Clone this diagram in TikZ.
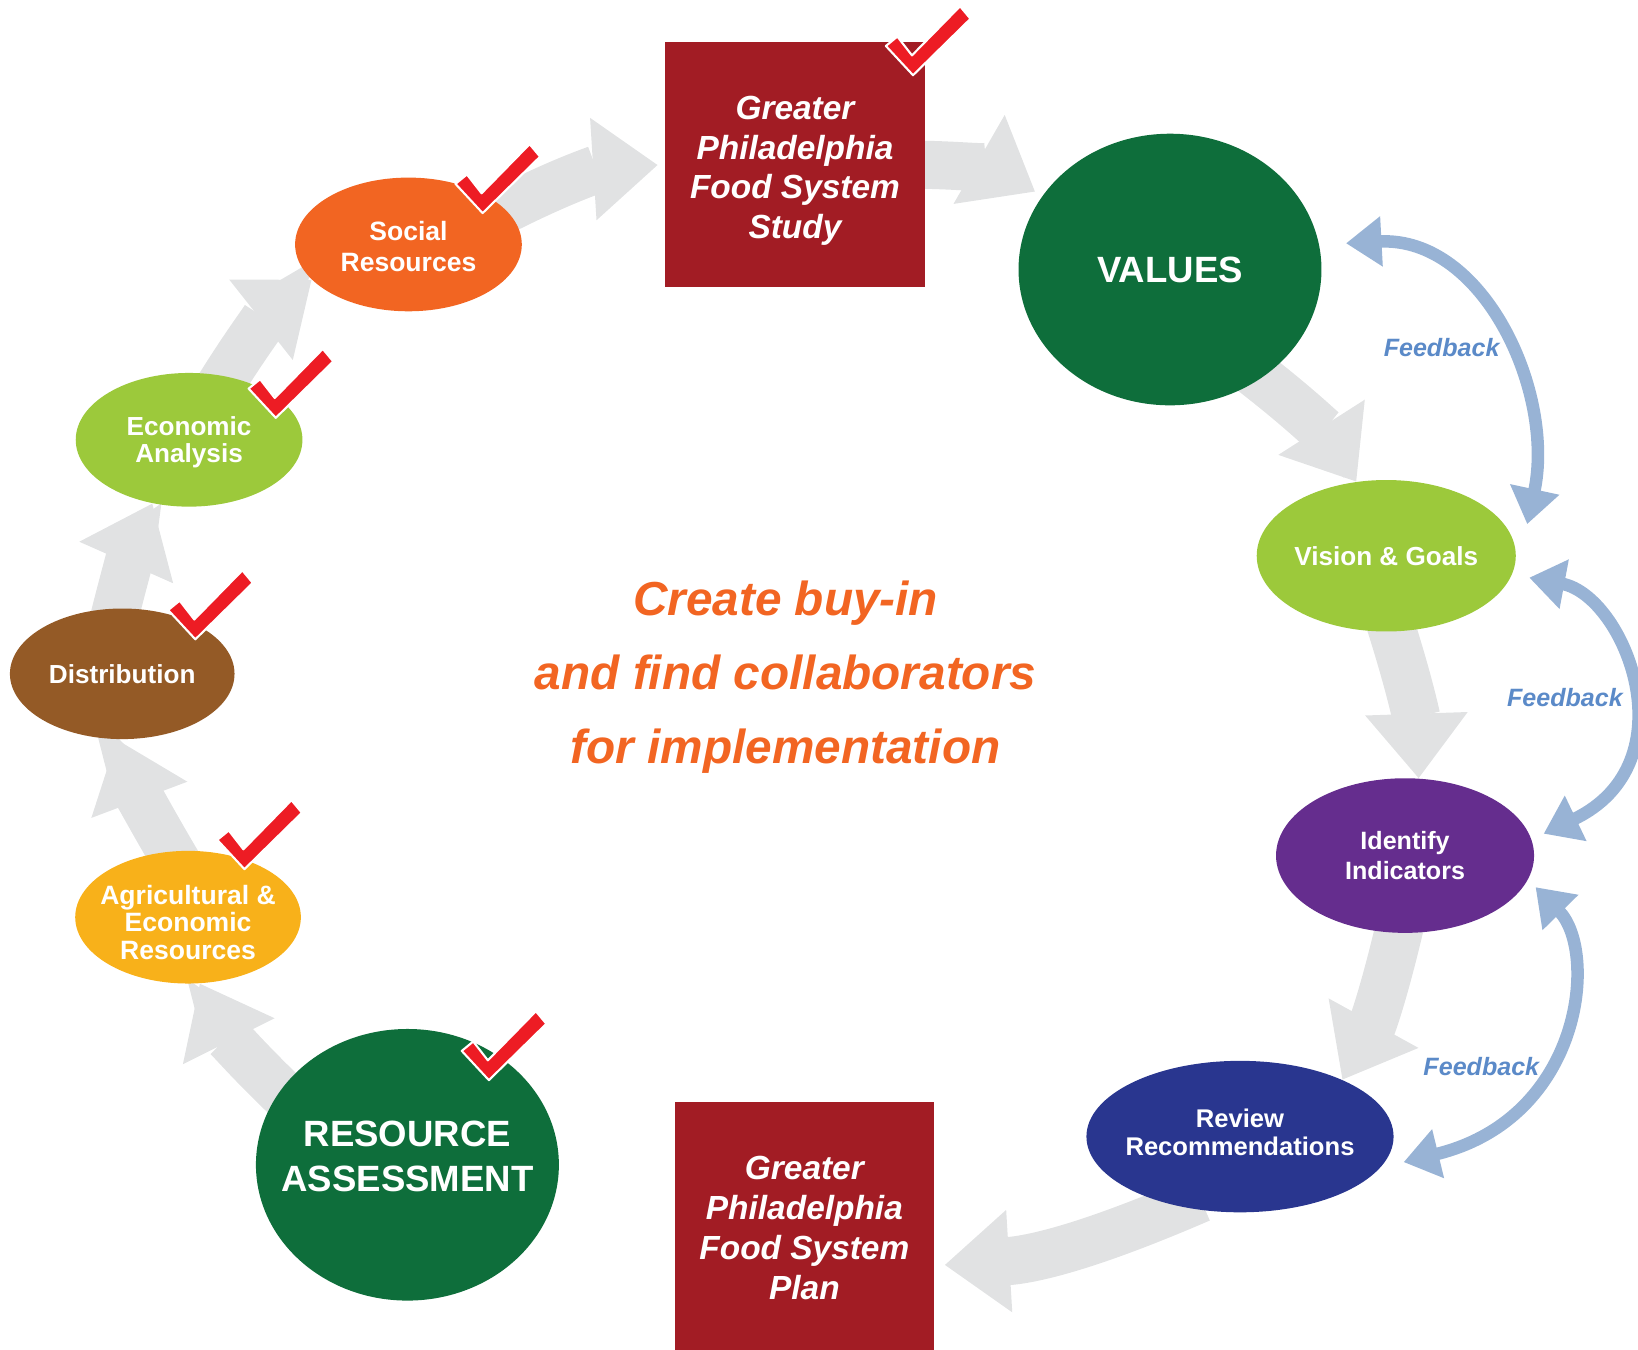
\documentclass[tikz,border=0pt]{standalone}
\usepackage{fontspec}
\setmainfont{Liberation Sans}
\usetikzlibrary{shapes.geometric,arrows.meta}
\definecolor{deepgreen}{HTML}{0E6E3B}
\definecolor{leafgreen}{HTML}{9CC93B}
\definecolor{plum}{HTML}{652D8E}
\definecolor{navy}{HTML}{29368F}
\definecolor{bark}{HTML}{945A26}
\definecolor{amber}{HTML}{F8B11A}
\definecolor{tangerine}{HTML}{F26522}
\definecolor{boxred}{HTML}{A21C24}
\definecolor{checkred}{HTML}{ED1C24}
\definecolor{flowgrey}{HTML}{E1E2E3}
\definecolor{fbblue}{HTML}{98B3D5}
\definecolor{fbtext}{HTML}{5B8AC8}
\pgfdeclarelayer{back}
\pgfsetlayers{back,main}
\begin{document}
\begin{tikzpicture}[x=1pt,y=-1pt,
  blob/.style={ellipse,inner sep=0pt,fill=#1},
  word/.style={text=white,align=center,font=\bfseries\fontsize{25}{27}\selectfont},
  bigword/.style={text=white,align=center,font=\bfseries\fontsize{35}{43}\selectfont},
  slab/.style={rectangle,fill=boxred,minimum width=248pt},
  boxword/.style={text=white,align=center,font=\bfseries\itshape\fontsize{32}{38}\selectfont},
  flow/.style={draw=flowgrey,line width=46pt,shorten <=-20pt,-{Triangle[length=62pt,width=94pt]}},
  fb/.style={draw=fbblue,line width=12pt,{Triangle[length=34pt,width=46pt]}-{Triangle[length=34pt,width=46pt]}},
  fbword/.style={text=fbtext,font=\bfseries\itshape\fontsize{24}{24}\selectfont},
  redcheck/.pic={\draw[fill=checkred,draw=white,line width=2pt,line join=round]
    (-24,-24) -- (-13,-33) -- (1,-15) -- (47,-62) -- (57,-50) -- (2,4) -- cycle;}]
\useasboundingbox (0,0) rectangle (1568,1292);
% the two study/plan boxes
\node[slab,minimum height=235pt,label={[boxword,yshift=-6pt]center:Greater\\Philadelphia\\Food System\\Study}] (study) at (761,157.5) {};
\node[slab,minimum height=237pt,label={[boxword,yshift=-2pt]center:Greater\\Philadelphia\\Food System\\Plan}] (plan) at (770,1173.5) {};
% right side
\node[blob=deepgreen,minimum width=290pt,minimum height=260pt,label={[bigword]center:VALUES}] (values) at (1120,258) {};
\node[blob=leafgreen,minimum width=248pt,minimum height=145pt,label={[word]center:Vision \& Goals}] (vision) at (1327,532) {};
\node[blob=plum,minimum width=247pt,minimum height=148pt,label={[word,font=\bfseries\fontsize{24}{28}\selectfont]center:Identify\\Indicators}] (ident) at (1345,819) {};
\node[blob=navy,minimum width=294pt,minimum height=145pt,label={[word,yshift=4pt,font=\bfseries\fontsize{24.5}{26}\selectfont]center:Review\\Recommendations}] (rev) at (1187,1088) {};
% left side
\node[blob=deepgreen,minimum width=290pt,minimum height=260pt,label={[bigword,yshift=8pt]center:RESOURCE\\ASSESSMENT}] (ra) at (390,1115) {};
\node[blob=amber,minimum width=216pt,minimum height=127pt,label={[word,yshift=-5pt,font=\bfseries\fontsize{25.4}{26.5}\selectfont]center:Agricultural \&\\Economic\\Resources}] (agri) at (180,878) {};
\node[blob=bark,minimum width=215pt,minimum height=125pt,label={[word]center:Distribution}] (dist) at (117,645) {};
\node[blob=leafgreen,minimum width=217pt,minimum height=128pt,label={[word,yshift=-2pt,font=\bfseries\fontsize{25}{26}\selectfont]center:Economic\\Analysis}] (econ) at (181,421) {};
\node[blob=tangerine,minimum width=217pt,minimum height=128pt,label={[word,yshift=-2pt,font=\bfseries\fontsize{25.4}{29}\selectfont]center:Social\\Resources}] (soc) at (391,234) {};
% centre text
\node[text=tangerine,align=center,font=\bfseries\itshape\fontsize{45.7}{71}\selectfont] (buyin) at (752,648) {Create buy-in\\and find collaborators\\for implementation};
% feedback labels
\node[fbword] (fba) at (1380,333) {Feedback};
\node[fbword] (fbb) at (1498,668) {Feedback};
\node[fbword] (fbc) at (1418,1021) {Feedback};
% ticks
\foreach \x/\y in {872/68,460/200,262/396,185/608,232/828,466/1030} \pic at (\x,\y) {redcheck};
\begin{pgfonlayer}{back}
\draw[flow,shorten >=7pt] (soc.20) to[bend left=12] (study.west);
\draw[flow,shorten >=8pt] (study.east) to[bend left=15] (values.150);
\draw[flow] (values.-50) to[bend left=10] (vision.112);
\draw[flow] (vision.-85) to[bend left=8] (ident.80);
\draw[flow] (ident.-95) to[bend left=8] (rev.29);
\draw[flow,shorten >=10pt] (rev.-130) to[bend left=10] (plan.-17);
\draw[flow] (ra.150) to[bend left=10] (agri.-80);
\draw[flow] (agri.105) to[bend left=5] (dist.-95);
\draw[flow] (dist.95) to[bend left=5] (econ.-120);
\draw[flow] (econ.60) to[bend left=10] (soc.-160);
% feedback loops
\draw[fb] ([xshift=26pt]values.10) .. controls +(132,-7) and +(27,-125) .. ([xshift=22pt]vision.15);
\draw[fb] ([xshift=18pt]vision.-10) .. controls +(91,17) and +(142,-68) .. ([xshift=14pt]ident.10);
\draw[fb] ([xshift=12pt]ident.-15) .. controls +(60,61) and +(172,-42) .. ([xshift=18pt]rev.-10);
\end{pgfonlayer}
\end{tikzpicture}
\end{document}
